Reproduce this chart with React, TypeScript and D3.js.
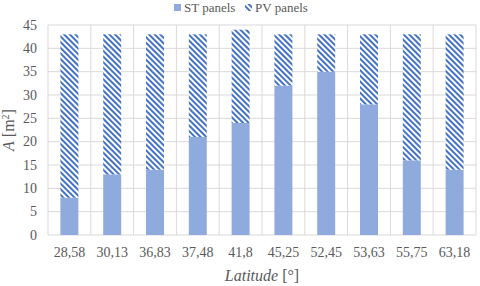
import * as d3 from "d3";

const latitudes = ["28,58", "30,13", "36,83", "37,48", "41,8", "45,25", "52,45", "53,63", "55,75", "63,18"];
const stPanels = [8, 13, 14, 21, 24, 32, 35, 28, 16, 14];
const pvPanels = [35, 30, 29, 22, 20, 11, 8, 15, 27, 29];
const yTicks = [0, 5, 10, 15, 20, 25, 30, 35, 40, 45];

const width = 480;
const height = 286;
const margin = { top: 25, left: 48, bottom: 51, right: 4 };
const font = '"Liberation Serif"';
const textColor = "#595959";
const gridColor = "#d9d9d9";

const App = () => {
  const x = d3.scaleBand()
    .domain(latitudes)
    .range([margin.left, width - margin.right])
    .paddingInner(0.58)
    .paddingOuter(0.29);

  const y = d3.scaleLinear()
    .domain([0, 45])
    .range([height - margin.bottom, margin.top]);

  const step = x.step();
  const x0 = margin.left;
  const x1 = width - margin.right;

  return (
    <svg width={width} height={height} style={{ position: "absolute", left: 0, top: 0, fontFamily: font }}>
      <defs>
        <pattern id="hatch" patternUnits="userSpaceOnUse" width={4} height={4} patternTransform="rotate(-45)">
          <rect width={4} height={4} fill="#fff" />
          <rect width={2} height={4} fill="#4472C4" />
        </pattern>
      </defs>

      {/* grid */}
      {yTicks.map(t => (
        <line key={"h" + t} x1={x0} x2={x1} y1={y(t)} y2={y(t)} stroke={gridColor} />
      ))}
      {d3.range(latitudes.length + 1).map(i => (
        <line key={"v" + i} x1={x0 + i * step} x2={x0 + i * step} y1={y(45)} y2={y(0)} stroke={gridColor} />
      ))}

      {/* ST panels */}
      {stPanels.map((d, i) => (
        <rect key={"st" + i} x={x(latitudes[i])} width={x.bandwidth()} y={y(d)} height={y(0) - y(d)} fill="#8FAADC" />
      ))}
      {/* PV panels, stacked */}
      {pvPanels.map((d, i) => (
        <rect key={"pv" + i} x={x(latitudes[i])} width={x.bandwidth()}
          y={y(stPanels[i] + d)} height={y(stPanels[i]) - y(stPanels[i] + d)} fill="url(#hatch)" />
      ))}

      {/* x tick labels */}
      {latitudes.map(l => (
        <text key={"xl" + l} x={x(l)! + x.bandwidth() / 2} y={y(0) + 22} textAnchor="middle"
          fontSize={14} fill={textColor} style={{ fontFamily: font }}>{l}</text>
      ))}
      {/* y tick labels */}
      {yTicks.map(t => (
        <text key={"yl" + t} x={x0 - 11} y={y(t)} dy="0.34em" textAnchor="end"
          fontSize={14} fill={textColor} style={{ fontFamily: font }}>{t}</text>
      ))}

      {/* axis titles */}
      <text x={(x0 + x1) / 2} y={281} textAnchor="middle" fontSize={16} fill={textColor} style={{ fontFamily: font }}>
        <tspan fontStyle="italic">Latitude</tspan> [°]
      </text>
      <text transform={`translate(14, ${(y(0) + y(45)) / 2}) rotate(-90)`} textAnchor="middle"
        fontSize={16} fill={textColor} style={{ fontFamily: font }}>
        <tspan fontStyle="italic">A</tspan> [m<tspan baselineShift="super" fontSize={10}>2</tspan>]
      </text>

      {/* legend */}
      <rect x={174} y={4} width={7} height={7} fill="#8FAADC" />
      <text x={184} y={12} fontSize={13} fill={textColor} style={{ fontFamily: font }}>ST panels</text>
      <rect x={245} y={4} width={7} height={7} fill="url(#hatch)" />
      <text x={255} y={12} fontSize={13} fill={textColor} style={{ fontFamily: font }}>PV panels</text>
    </svg>
  );
};

export default App;
